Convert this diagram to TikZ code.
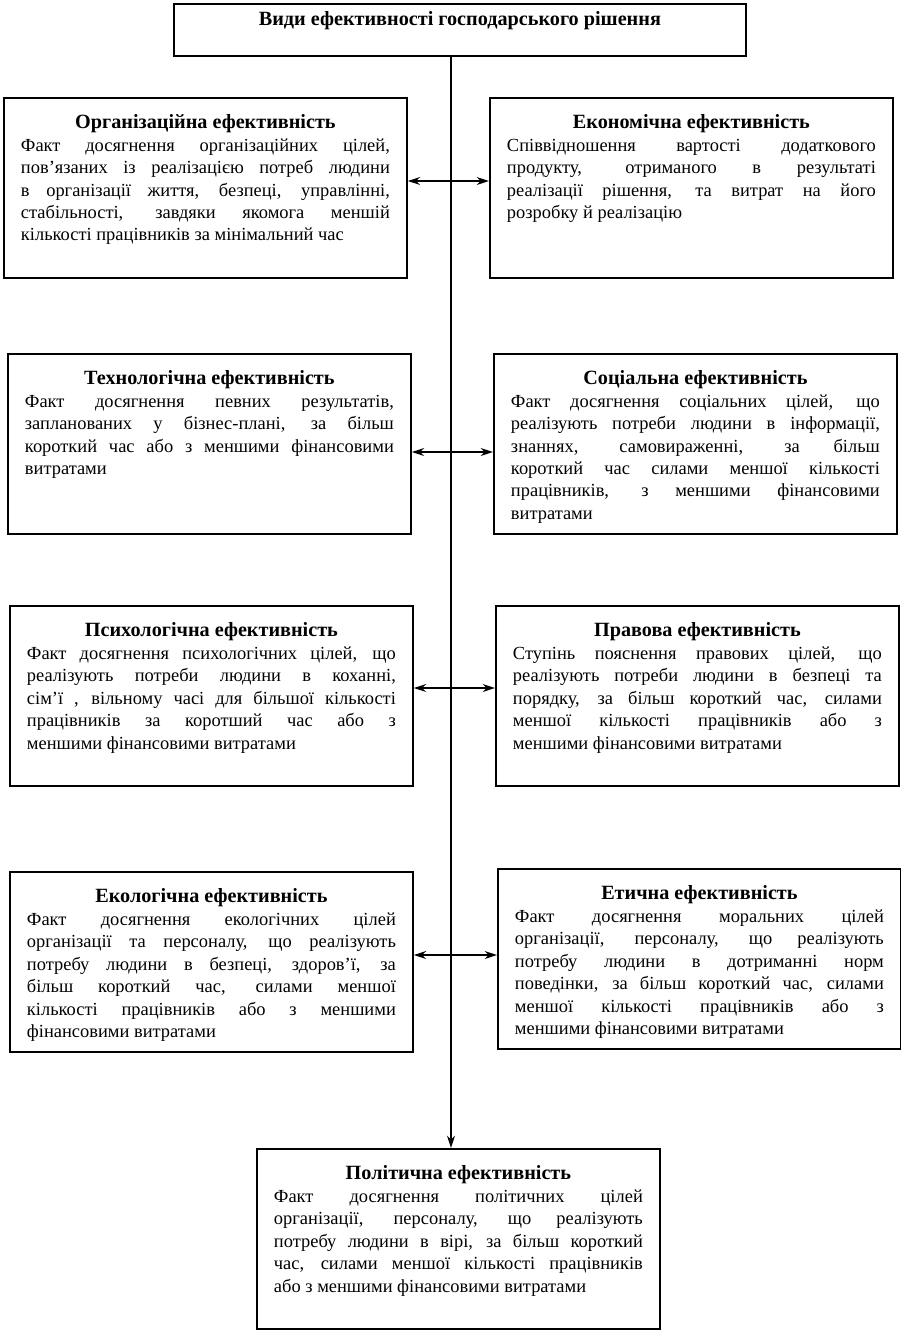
\documentclass[tikz,border=0pt]{standalone}
\usepackage{fontspec}
\setmainfont{Liberation Serif}
\usetikzlibrary{positioning,arrows.meta}

% box text: bold centred heading, justified body
\newcommand{\efftext}[2]{\parbox[t][2.92cm][t]{7.38cm}{\fontsize{10.5}{12.75}\selectfont
  {\centering\fontsize{11.5}{12.75}\selectfont\bfseries #1\par}#2}}

\begin{document}
\begin{tikzpicture}[x=0.02cm, y=-0.02cm,
  effbox/.style={draw, line width=1.1pt, anchor=north west, inner sep=0.34cm},
  titlebox/.style={draw, line width=1.1pt, anchor=north west, minimum width=11.44cm,
                   minimum height=1.04cm, text depth=0.45cm,
                   font=\fontsize{11.5}{12.75}\selectfont\bfseries},
  link/.style={{Stealth[length=7pt,width=4.5pt]}-{Stealth[length=7pt,width=4.5pt]}, line width=0.8pt},
  spine/.style={-{Stealth[length=7pt,width=4.5pt]}, line width=0.8pt},
]
\useasboundingbox (0,0) rectangle (901,1330);

\node[titlebox] (title) at (173,3) {Види ефективності господарського рішення};

% left column
\node[effbox] (org) at (3,97) {\efftext{Організаційна ефективність}{Факт досягнення організаційних цілей,\linebreak
  пов’язаних із реалізацією потреб людини\linebreak
  в організації життя, безпеці, управлінні,\linebreak
  стабільності, завдяки якомога меншій\linebreak
  кількості працівників за мінімальний час}};
\node[effbox] (tech) at (7,353) {\efftext{Технологічна ефективність}{Факт досягнення певних результатів,\linebreak
  запланованих у бізнес-плані, за більш\linebreak
  короткий час або з меншими фінансовими\linebreak
  витратами}};
\node[effbox] (psych) at (9,605) {\efftext{Психологічна ефективність}{Факт досягнення психологічних цілей, що\linebreak
  реалізують потреби людини в коханні,\linebreak
  сім’ї , вільному часі для більшої кількості\linebreak
  працівників за коротший час або з\linebreak
  меншими фінансовими витратами}};
\node[effbox] (ecol) at (9,871) {\efftext{Екологічна ефективність}{Факт досягнення екологічних цілей\linebreak
  організації та персоналу, що реалізують\linebreak
  потребу людини в безпеці, здоров’ї, за\linebreak
  більш короткий час, силами меншої\linebreak
  кількості працівників або з меншими\linebreak
  фінансовими витратами}};

% right column
\node[effbox] (econ) at (489,97) {\efftext{Економічна ефективність}{Співвідношення вартості додаткового\linebreak
  продукту, отриманого в результаті\linebreak
  реалізації рішення, та витрат на його\linebreak
  розробку й реалізацію}};
\node[effbox] (soc) at (493,353) {\efftext{Соціальна ефективність}{Факт досягнення соціальних цілей, що\linebreak
  реалізують потреби людини в інформації,\linebreak
  знаннях, самовираженні, за більш\linebreak
  короткий час силами меншої кількості\linebreak
  працівників, з меншими фінансовими\linebreak
  витратами}};
\node[effbox] (legal) at (495,605) {\efftext{Правова ефективність}{Ступінь пояснення правових цілей, що\linebreak
  реалізують потреби людини в безпеці та\linebreak
  порядку, за більш короткий час, силами\linebreak
  меншої кількості працівників або з\linebreak
  меншими фінансовими витратами}};
\node[effbox] (ethic) at (497,868) {\efftext{Етична ефективність}{Факт досягнення моральних цілей\linebreak
  організації, персоналу, що реалізують\linebreak
  потребу людини в дотриманні норм\linebreak
  поведінки, за більш короткий час, силами\linebreak
  меншої кількості працівників або з\linebreak
  меншими фінансовими витратами}};

% bottom
\node[effbox] (pol) at (256,1148) {\efftext{Політична ефективність}{Факт досягнення політичних цілей\linebreak
  організації, персоналу, що реалізують\linebreak
  потребу людини в вірі, за більш короткий\linebreak
  час, силами меншої кількості працівників\linebreak
  або з меншими фінансовими витратами}};

% spine and cross links
\coordinate (r1) at (451,181);
\coordinate (r2) at (451,452);
\coordinate (r3) at (451,688);
\coordinate (r4) at (451,955);
\draw[spine] (title.south -| r1) -- (pol.north -| r1);
\draw[link] (org.east |- r1) -- (econ.west |- r1);
\draw[link] (tech.east |- r2) -- (soc.west |- r2);
\draw[link] (psych.east |- r3) -- (legal.west |- r3);
\draw[link] (ecol.east |- r4) -- (ethic.west |- r4);
\end{tikzpicture}
\end{document}
